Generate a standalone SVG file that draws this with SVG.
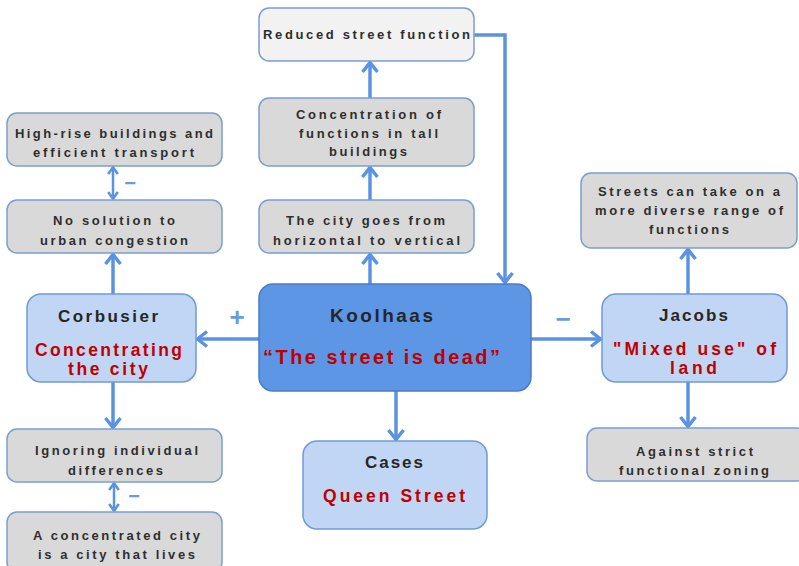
<svg xmlns="http://www.w3.org/2000/svg" width="799" height="566" viewBox="0 0 799 566">
<style>
.sm{fill:#d9d9d9;stroke:#7a9fcf;stroke-width:1.5}
.lt{fill:#f2f2f2;stroke:#7a9fcf;stroke-width:1.5}
.mid{fill:#c0d6f4;stroke:#6f9bd6;stroke-width:1.5}
.main{fill:#5d96e4;stroke:#4a7cc2;stroke-width:1.5}
text{font-family:"Liberation Sans",Arial,sans-serif;font-weight:bold;text-anchor:middle}
.t{font-size:13px;fill:#2e2e2e}
.h{font-size:17px;fill:#262626}
.r{font-size:17.5px;fill:#c00000}
.c line,.c path{stroke:#5b93e3;stroke-width:3.5;fill:none}
.c line.d{stroke-width:2.5}
.sg{font-family:"Liberation Sans",Arial,sans-serif;fill:#6a9be0}
</style>
<defs>
<marker id="a" viewBox="0 0 14 18" refX="12" refY="9" markerWidth="14" markerHeight="18" markerUnits="userSpaceOnUse" orient="auto-start-reverse">
<path d="M2,1.5 L11.5,9 L2,16.5" fill="none" stroke="#5b93e3" stroke-width="3.5"/>
</marker>
<marker id="s" viewBox="0 0 10 12" refX="8.5" refY="6" markerWidth="10" markerHeight="12" markerUnits="userSpaceOnUse" orient="auto-start-reverse">
<path d="M1.5,1.2 L8.2,6 L1.5,10.8" fill="none" stroke="#5b93e3" stroke-width="2.6"/>
</marker>
</defs>
<g class="c" id="connectors">
<line x1="259" y1="339" x2="197" y2="339" marker-end="url(#a)"/>
<line x1="531" y1="339" x2="601" y2="339" marker-end="url(#a)"/>
<line x1="396" y1="391" x2="396" y2="440" marker-end="url(#a)"/>
<line x1="370" y1="284" x2="370" y2="254" marker-end="url(#a)"/>
<line x1="370" y1="200" x2="370" y2="167" marker-end="url(#a)"/>
<line x1="370" y1="98" x2="370" y2="62" marker-end="url(#a)"/>
<path d="M474,35 H505 V283" marker-end="url(#a)"/>
<line x1="113" y1="294" x2="113" y2="254" marker-end="url(#a)"/>
<line class="d" x1="113" y1="167" x2="113" y2="199" marker-start="url(#s)" marker-end="url(#s)"/>
<line x1="113" y1="382" x2="113" y2="428" marker-end="url(#a)"/>
<line class="d" x1="114" y1="483" x2="114" y2="511" marker-start="url(#s)" marker-end="url(#s)"/>
<line x1="688" y1="294" x2="688" y2="249" marker-end="url(#a)"/>
<line x1="688" y1="382" x2="688" y2="427" marker-end="url(#a)"/>
<text class="sg" x="237" y="326" style="font-size:26px">+</text>
<text class="sg" x="563" y="328" style="font-size:26px">−</text>
<text class="sg" x="130" y="190" style="font-size:20px">−</text>
<text class="sg" x="134" y="503" style="font-size:20px">−</text>
</g>
<g id="reduced">
<rect class="lt" x="259" y="8" width="215" height="53" rx="10"/>
<text class="t" x="366.5" y="39" textLength="207" lengthAdjust="spacing">Reduced street function</text>
</g>
<g id="concentration">
<rect class="sm" x="259" y="98" width="215" height="68" rx="10"/>
<text class="t" x="368.5" y="119" textLength="145" lengthAdjust="spacing">Concentration of</text>
<text class="t" x="368.5" y="138" textLength="139" lengthAdjust="spacing">functions in tall</text>
<text class="t" x="368" y="156" textLength="78" lengthAdjust="spacing">buildings</text>
</g>
<g id="horizontal">
<rect class="sm" x="259" y="200" width="215" height="53" rx="10"/>
<text class="t" x="365.5" y="225" textLength="159" lengthAdjust="spacing">The city goes from</text>
<text class="t" x="366.5" y="245" textLength="187" lengthAdjust="spacing">horizontal to vertical</text>
</g>
<g id="koolhaas">
<rect class="main" x="259" y="284" width="272" height="107" rx="14"/>
<text class="h" x="381.5" y="322" textLength="103" lengthAdjust="spacing" style="font-size:19px">Koolhaas</text>
<text class="r" x="381.5" y="364" textLength="237" lengthAdjust="spacing" style="font-size:20px">“The street is dead”</text>
</g>
<g id="cases">
<rect class="mid" x="303" y="441" width="184" height="88" rx="14"/>
<text class="h" x="394" y="468" textLength="58" lengthAdjust="spacing">Cases</text>
<text class="r" x="394" y="502" textLength="142" lengthAdjust="spacing">Queen Street</text>
</g>
<g id="corbusier">
<rect class="mid" x="27" y="294" width="169" height="88" rx="14"/>
<text class="h" x="108" y="322" textLength="100" lengthAdjust="spacing">Corbusier</text>
<text class="r" x="108.5" y="356" textLength="147" lengthAdjust="spacing">Concentrating</text>
<text class="r" x="108" y="375" textLength="80" lengthAdjust="spacing">the city</text>
</g>
<g id="highrise">
<rect class="sm" x="7" y="113" width="215" height="53" rx="10"/>
<text class="t" x="114" y="138" textLength="198" lengthAdjust="spacing">High-rise buildings and</text>
<text class="t" x="113.5" y="157" textLength="161" lengthAdjust="spacing">efficient transport</text>
</g>
<g id="nosolution">
<rect class="sm" x="7" y="200" width="215" height="53" rx="10"/>
<text class="t" x="114" y="225" textLength="122" lengthAdjust="spacing">No solution to</text>
<text class="t" x="114" y="245" textLength="148" lengthAdjust="spacing">urban congestion</text>
</g>
<g id="ignoring">
<rect class="sm" x="7" y="429" width="215" height="53" rx="10"/>
<text class="t" x="116.5" y="455" textLength="163" lengthAdjust="spacing">Ignoring individual</text>
<text class="t" x="115.5" y="475" textLength="95" lengthAdjust="spacing">differences</text>
</g>
<g id="concentrated">
<rect class="sm" x="7" y="512" width="215" height="60" rx="10"/>
<text class="t" x="116.5" y="540" textLength="167" lengthAdjust="spacing">A concentrated city</text>
<text class="t" x="116.5" y="559" textLength="157" lengthAdjust="spacing">is a city that lives</text>
</g>
<g id="jacobs">
<rect class="mid" x="602" y="294" width="185" height="88" rx="14"/>
<text class="h" x="693.5" y="321" textLength="69" lengthAdjust="spacing">Jacobs</text>
<text class="r" x="694.5" y="355" textLength="163" lengthAdjust="spacing">"Mixed use" of</text>
<text class="r" x="693.5" y="374" textLength="47" lengthAdjust="spacing">land</text>
</g>
<g id="streets">
<rect class="sm" x="581" y="173" width="216" height="75" rx="10"/>
<text class="t" x="689" y="196" textLength="182" lengthAdjust="spacing">Streets can take on a</text>
<text class="t" x="689" y="215" textLength="188" lengthAdjust="spacing">more diverse range of</text>
<text class="t" x="689" y="234" textLength="80" lengthAdjust="spacing">functions</text>
</g>
<g id="against">
<rect class="sm" x="587" y="428" width="220" height="53" rx="10"/>
<text class="t" x="694.5" y="456" textLength="117" lengthAdjust="spacing">Against strict</text>
<text class="t" x="694" y="475" textLength="150" lengthAdjust="spacing">functional zoning</text>
</g>
</svg>
